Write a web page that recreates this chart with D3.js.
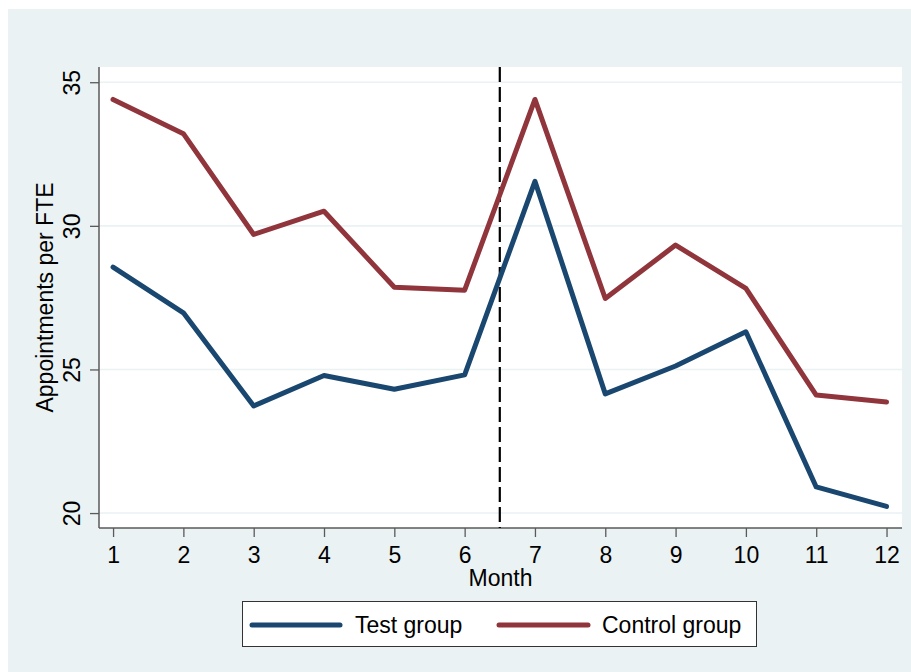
<!DOCTYPE html>
<html>
<head>
<meta charset="utf-8">
<script src="https://cdn.jsdelivr.net/npm/d3@7"></script>
<style>
  html, body { margin: 0; padding: 0; background: #ffffff; }
  svg { display: block; }
  text { font-family: "Liberation Sans", Arial, sans-serif; fill: #000; }
</style>
</head>
<body>
<svg id="chart" width="911" height="672"></svg>
<script>
// ---- data ----
const months = [1, 2, 3, 4, 5, 6, 7, 8, 9, 10, 11, 12];
const testGroup = [28.56, 26.97, 23.73, 24.79, 24.31, 24.81, 31.55, 24.15, 25.12, 26.31, 20.91, 20.23];
const controlGroup = [34.40, 33.21, 29.70, 30.51, 27.86, 27.76, 34.40, 27.47, 29.33, 27.82, 24.11, 23.87];
const yTicks = [20, 25, 30, 35];
const xTicks = [1, 2, 3, 4, 5, 6, 7, 8, 9, 10, 11, 12];
const seriesNames = ["Test group", "Control group"];
const interventionMonth = 6.5;
const xTitle = "Month";
const yTitle = "Appointments per FTE";

// ---- layout ----
const W = 911, H = 672;
const plot = { left: 99, right: 902, top: 67, bottom: 528 };
const colors = ["#1A476F", "#90353B"];
const bg = "#EAF2F3";
const axisColor = "#5a5a5a";
const fontSize = 23;

const svg = d3.select("#chart");

// outer graph region
svg.append("rect").attr("x", 8).attr("y", 9).attr("width", W - 8).attr("height", H - 9).attr("fill", bg);
// plot region
svg.append("rect").attr("x", plot.left).attr("y", plot.top)
  .attr("width", plot.right - plot.left).attr("height", plot.bottom - plot.top).attr("fill", "#ffffff");

const x = d3.scaleLinear().domain([0.8, 12.22]).range([plot.left, plot.right]);
const y = d3.scaleLinear().domain([19.48, 35.53]).range([plot.bottom, plot.top]);

// gridlines
svg.append("g").selectAll("line").data(yTicks).join("line")
  .attr("x1", plot.left).attr("x2", plot.right)
  .attr("y1", d => y(d)).attr("y2", d => y(d))
  .attr("stroke", bg).attr("stroke-width", 1.6);

// y axis
const yAxis = svg.append("g").attr("transform", `translate(${plot.left},0)`)
  .call(d3.axisLeft(y).tickValues(yTicks).tickSize(9).tickFormat(d3.format("d")));
yAxis.select(".domain").remove();
yAxis.selectAll(".tick line").attr("stroke", axisColor).attr("stroke-width", 1.3);
yAxis.selectAll(".tick text")
  .attr("x", null).attr("dy", null).attr("y", null)
  .attr("transform", "translate(-19,0) rotate(-90)")
  .attr("text-anchor", "middle")
  .style("font-size", fontSize + "px")
  .style("font-family", "'Liberation Sans', Arial, sans-serif")
  .attr("fill", "#000");

// x axis
const xAxis = svg.append("g").attr("transform", `translate(0,${plot.bottom})`)
  .call(d3.axisBottom(x).tickValues(xTicks).tickSize(9).tickPadding(10).tickFormat(d3.format("d")));
xAxis.select(".domain").remove();
xAxis.selectAll(".tick line").attr("stroke", axisColor).attr("stroke-width", 1.3);
xAxis.selectAll(".tick text")
  .style("font-size", fontSize + "px")
  .style("font-family", "'Liberation Sans', Arial, sans-serif")
  .attr("fill", "#000");

// axis lines
svg.append("line").attr("x1", plot.left).attr("x2", plot.left).attr("y1", plot.top).attr("y2", plot.bottom)
  .attr("stroke", axisColor).attr("stroke-width", 1.5);
svg.append("line").attr("x1", plot.left).attr("x2", plot.right).attr("y1", plot.bottom).attr("y2", plot.bottom)
  .attr("stroke", axisColor).attr("stroke-width", 1.5);

// vertical dashed line
svg.append("line")
  .attr("x1", x(interventionMonth)).attr("x2", x(interventionMonth))
  .attr("y1", plot.top).attr("y2", plot.bottom)
  .attr("stroke", "#000").attr("stroke-width", 2.2).attr("stroke-dasharray", "15,5");

// series lines
const line = d3.line().x((d, i) => x(months[i])).y(d => y(d));
[testGroup, controlGroup].forEach((s, i) => {
  svg.append("path").datum(s).attr("d", line)
    .attr("fill", "none").attr("stroke", colors[i]).attr("stroke-width", 5)
    .attr("stroke-linejoin", "round").attr("stroke-linecap", "round");
});

// titles
svg.append("text").attr("x", (plot.left + plot.right) / 2).attr("y", 586)
  .attr("text-anchor", "middle").style("font-size", fontSize + "px").text(xTitle);
svg.append("text").attr("transform", `translate(53,${(plot.top + plot.bottom) / 2}) rotate(-90)`)
  .attr("text-anchor", "middle").style("font-size", fontSize + "px").text(yTitle);

// legend
const lg = svg.append("g");
lg.append("rect").attr("x", 242.5).attr("y", 601.5).attr("width", 514).attr("height", 45)
  .attr("fill", "#fff").attr("stroke", "#333").attr("stroke-width", 1);
const legendItems = [
  { x1: 252, x2: 340, tx: 355 },
  { x1: 499, x2: 588, tx: 602 }
];
legendItems.forEach((it, i) => {
  lg.append("line").attr("x1", it.x1).attr("x2", it.x2).attr("y1", 625).attr("y2", 625)
    .attr("stroke", colors[i]).attr("stroke-width", 5).attr("stroke-linecap", "round");
  lg.append("text").attr("x", it.tx).attr("y", 633).style("font-size", fontSize + "px").text(seriesNames[i]);
});
</script>
</body>
</html>
